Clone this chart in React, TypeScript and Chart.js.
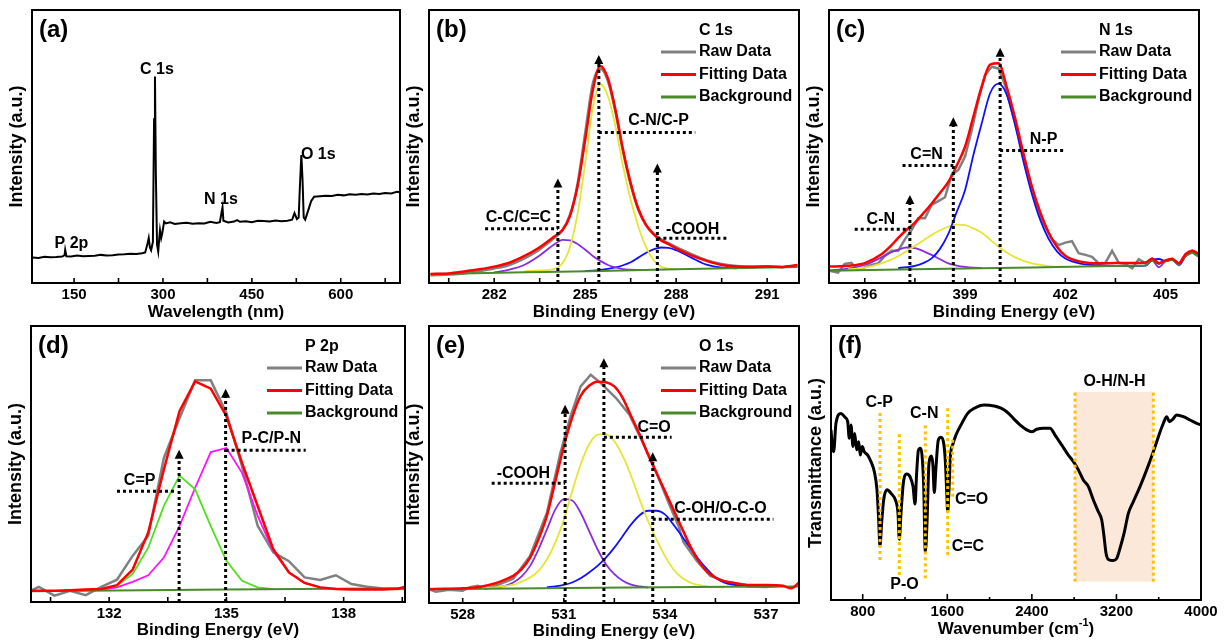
import React, { useEffect, useRef } from 'react';
import { Chart, registerables } from 'chart.js';

Chart.register(...registerables);

const FONT = '"Liberation Sans", Arial, Helvetica, sans-serif';
Chart.defaults.font.family = FONT;
Chart.defaults.color = '#000';

const C_RAW = '#808080';
const C_FIT = '#ff0000';
const C_BG = '#4a8a2a';
const C_YEL = '#e6e632';
const C_PUR = '#8a2be2';
const C_BLU = '#1010ff';
const C_LIME = '#4fe01e';
const C_MAG = '#ff10ff';
const C_GOLD = '#ffc000';

// ---------- (a) XPS survey ----------
const surveyTicks = [150, 300, 450, 600];
const surveyX = [80, 90, 100, 110, 120, 130, 134, 135, 137, 145, 155, 165, 175, 185, 195, 205, 215, 225, 235, 245, 255, 265, 270, 274, 276, 278, 280, 283, 285, 286.5, 288, 290, 292, 294, 295, 297, 299, 302, 305, 312, 320, 330, 340, 350, 360, 370, 380, 390, 396, 399, 400.5, 402, 410, 420, 425, 430, 440, 450, 460, 470, 480, 490, 500, 510, 518, 522, 526, 529, 531, 533.5, 535.5, 537.5, 540, 545, 550, 555, 565, 575, 585, 595, 605, 615, 625, 635, 645, 655, 665, 675, 685, 695, 700];
const surveyY = [9.3, 9.2, 9.6, 9.4, 9.5, 9.7, 10.2, 12.1, 9.8, 9.7, 10.1, 9.8, 9.9, 10.0, 10.3, 10.1, 10.2, 10.4, 10.5, 10.7, 10.6, 10.9, 11.2, 14.5, 16.5, 13.0, 12.0, 15.0, 60.0, 75.6, 40.0, 14.0, 11.5, 17.0, 19.4, 16.5, 18.5, 22.5, 21.8, 22.2, 21.6, 21.9, 22.1, 21.7, 21.9, 21.8, 22.4, 22.0, 22.3, 26.0, 27.7, 22.8, 22.2, 22.5, 23.0, 22.4, 22.6, 22.3, 22.8, 22.7, 22.5, 22.9, 22.6, 22.8, 23.2, 25.6, 23.4, 24.0, 35.0, 46.9, 38.0, 24.0, 23.2, 26.5, 30.0, 31.6, 31.8, 32.0, 31.9, 32.3, 32.1, 32.5, 32.3, 32.6, 32.4, 32.8, 32.6, 33.0, 32.8, 33.4, 33.2];
const surveyNames = ['P 2p', 'C 1s', 'N 1s', 'O 1s'];
const surveyNameX = [145.5, 289.9, 397.8, 562];
const surveyNameY = [14.5, 78.3, 30.7, 47.1];

// ---------- (b) C 1s ----------
const c1sTicks = [282, 285, 288, 291];
const c1sX = [279.9, 280.5, 281, 281.5, 282, 282.5, 283, 283.5, 284, 284.25, 284.5, 284.75, 285, 285.25, 285.5, 285.75, 286, 286.25, 286.5, 286.75, 287, 287.25, 287.5, 287.75, 288, 288.5, 289, 289.5, 290, 290.5, 291, 291.5, 292];
const c1sRaw = [2.8, 3.1, 3.5, 4.3, 5.3, 6.6, 9.0, 12.3, 16.7, 19.2, 25.0, 36.5, 55.0, 73.0, 78.5, 74.0, 62.5, 48.0, 36.0, 27.0, 21.3, 18.2, 16.0, 14.6, 13.1, 10.6, 8.4, 7.0, 6.2, 6.0, 6.1, 5.8, 6.3];
const c1sFit = [3.3, 3.5, 4.2, 5.0, 6.0, 7.4, 9.9, 13.1, 17.2, 19.4, 24.6, 35.5, 52.4, 70.6, 79.5, 74.9, 63.4, 48.7, 36.6, 27.2, 21.4, 17.9, 15.6, 14.2, 12.7, 10.1, 8.1, 6.6, 6.0, 5.9, 6.0, 5.9, 6.6];
const c1sCN = [null, null, null, null, null, null, 4.3, 4.6, 5.2, 7.2, 13.3, 25.5, 43.7, 64.0, 72.9, 68.4, 57.3, 42.7, 30.5, 20.8, 13.3, 8.4, 6.0, 5.3, 5.1, null, null, null, null, null, null, null, null];
const c1sCC = [null, null, null, null, 3.9, 4.9, 6.7, 10.1, 14.3, 15.8, 15.6, 14.3, 12.2, 9.9, 8.1, 6.6, 5.7, 5.1, 4.9, 4.8, 4.8, null, null, null, null, null, null, null, null, null, null, null, null];
const c1sCOOH = [null, null, null, null, null, null, null, null, null, null, null, null, 4.4, 4.5, 4.8, 5.2, 5.7, 6.5, 7.6, 9.3, 11.0, 12.3, 13.0, 12.9, 12.0, 9.3, 6.7, 5.6, 5.4, null, null, null, null];
const c1sBgX = [279.9, 283, 285.5, 288, 292];
const c1sBg = [3.3, 3.9, 4.4, 5.0, 5.9];
const c1sNames = ['C-C/C=C', 'C-N/C-P', '-COOH'];
const c1sArrowX = [284.1, 285.45, 287.38];
const c1sArrowTop = [38.3, 83.5, 43.8];
const c1sLineFrom = [281.7, 285.45, 287.38];
const c1sLineTo = [284.1, 288.63, 289.67];
const c1sLineY = [19.9, 55.1, 16.4];
const c1sNameX = [282.8, 287.42, 288.54];
const c1sNameY = [24.1, 59.5, 19.7];

// ---------- (c) N 1s ----------
const n1sTicks = [396, 399, 402, 405];
const n1sRawX = [394.95, 395.2, 395.4, 395.6, 395.8, 396.0, 396.2, 396.4, 396.6, 396.8, 397.0, 397.2, 397.4, 397.6, 397.8, 398.0, 398.2, 398.4, 398.6, 398.8, 399.0, 399.2, 399.4, 399.6, 399.8, 400.0, 400.2, 400.4, 400.6, 400.8, 401.0, 401.2, 401.4, 401.6, 401.8, 402.0, 402.2, 402.4, 402.6, 402.8, 403.0, 403.2, 403.4, 403.6, 403.8, 404.0, 404.2, 404.4, 404.6, 404.8, 405.0, 405.2, 405.4, 405.6, 405.8, 406.0];
const n1sRaw = [4.5, 3.8, 7.0, 7.4, 4.8, 5.7, 6.6, 7.2, 9.9, 11.8, 11.8, 16.0, 19.4, 23.7, 23.7, 28.6, 30.0, 31.4, 39.6, 41.4, 46.3, 56.0, 67.0, 76.2, 79.2, 78.6, 72.5, 62.8, 53.6, 43.2, 34.1, 26.1, 20.6, 16.0, 13.9, 14.8, 15.3, 10.9, 10.3, 9.6, 7.2, 7.4, 11.8, 7.4, 7.0, 5.4, 8.7, 7.2, 9.0, 7.2, 8.2, 8.9, 6.8, 10.6, 11.8, 10.3];
const n1sX = [394.95, 395.5, 396.0, 396.5, 396.75, 397.0, 397.25, 397.5, 397.75, 398.0, 398.25, 398.5, 398.75, 399.0, 399.25, 399.5, 399.75, 400.0, 400.25, 400.5, 400.75, 401.0, 401.25, 401.5, 401.75, 402.0, 402.5, 403.0, 403.5, 404.0, 404.4, 404.6, 404.8, 405.0, 405.2, 405.4, 405.6, 405.8, 406.0];
const n1sFit = [6.0, 6.3, 7.3, 10.5, 13.2, 16.5, 19.5, 22.1, 25.5, 29.0, 33.0, 37.0, 43.0, 49.9, 61.0, 72.0, 80.0, 80.5, 71.7, 60.3, 47.3, 35.3, 25.9, 18.5, 13.3, 10.0, 7.7, 7.2, 7.3, 7.3, 7.5, 8.9, 7.2, 8.3, 8.8, 7.2, 10.6, 11.8, 10.6];
const n1sNP = [null, null, null, null, null, 5.5, 5.8, 6.3, 7.3, 9.0, 12.5, 18.0, 26.0, 34.0, 46.9, 58.5, 69.5, 73.0, 68.9, 57.9, 44.4, 32.6, 23.1, 16.2, 11.6, 9.0, 7.0, 6.5, 6.3, 6.3, 6.4, 8.4, 8.8, 8.0, 8.6, 6.6, 9.9, 11.1, 9.6];
const n1sCeqN = [null, 5.0, 5.6, 7.2, 8.4, 9.8, 11.6, 13.6, 15.6, 17.6, 19.3, 20.6, 21.4, 21.2, 20.0, 18.4, 15.9, 13.3, 11.2, 9.4, 8.1, 7.2, 6.6, 6.2, 6.0, 6.0, null, null, null, null, null, null, null, null, null, null, null, null, null];
const n1sCN = [4.6, 5.3, 6.6, 9.4, 11.0, 12.2, 13.0, 12.8, 11.7, 10.3, 8.7, 7.2, 6.4, 5.9, 5.6, 5.5, null, null, null, null, null, null, null, null, null, null, null, null, null, null, 6.4, 8.2, 5.8, 8.0, 8.6, 6.6, 9.9, 11.1, 9.6];
const n1sBgX = [394.95, 397, 399, 401, 403, 404.0, 404.4, 404.6, 404.8, 405.0, 405.2, 405.4, 405.6, 405.8, 406.0];
const n1sBg = [4.5, 4.9, 5.3, 5.7, 6.1, 6.3, 6.4, 8.4, 7.0, 8.0, 8.6, 6.6, 9.9, 11.1, 9.6];
const n1sNames = ['C-N', 'C=N', 'N-P'];
const n1sArrowX = [397.35, 398.65, 400.05];
const n1sArrowTop = [32.2, 60.7, 86.2];
const n1sLineFrom = [395.7, 397.13, 400.05];
const n1sLineTo = [397.35, 398.65, 402.0];
const n1sLineY = [19.7, 43.0, 48.5];
const n1sNameX = [396.48, 397.85, 401.35];
const n1sNameY = [23.4, 46.9, 52.4];

// ---------- (d) P 2p ----------
const p2pTicks = [132, 135, 138];
const p2pRawX = [130.0, 130.2, 130.6, 131.0, 131.4, 131.8, 132.2, 132.6, 133.0, 133.4, 133.8, 134.2, 134.6, 135.0, 135.4, 135.8, 136.2, 136.6, 137.0, 137.4, 137.8, 138.2, 138.6, 139.0, 139.57];
const p2pRaw = [4.1, 5.5, 2.3, 4.1, 2.5, 5.5, 8.1, 16.7, 24.0, 52.2, 66.6, 80.3, 80.3, 68.5, 49.2, 27.6, 18.0, 14.8, 8.9, 8.0, 9.7, 6.5, 5.5, 4.9, 4.7];
const p2pX = [130.0, 130.6, 131.0, 131.4, 131.8, 132.2, 132.6, 133.0, 133.4, 133.8, 134.2, 134.6, 135.0, 135.4, 135.8, 136.2, 136.6, 137.0, 137.4, 137.8, 138.2, 138.6, 139.0, 139.4, 139.57];
const p2pFit = [4.1, 4.1, 4.3, 4.5, 4.7, 6.1, 11.7, 25.2, 48.0, 69.1, 79.9, 77.3, 67.3, 50.4, 34.8, 19.1, 10.7, 6.9, 5.3, 4.7, 4.5, 4.5, 4.5, 4.8, 5.5];
const p2pCP = [null, null, null, 4.5, 4.7, 5.9, 10.1, 19.7, 34.8, 45.8, 40.8, 27.5, 14.9, 7.7, 5.3, 4.7, null, null, null, null, null, null, null, null, null];
const p2pPC = [null, null, null, 4.4, 4.4, 5.3, 7.3, 9.7, 16.1, 27.5, 41.4, 54.3, 55.8, 46.8, 31.2, 18.5, 10.7, 6.9, 5.3, 4.7, null, null, null, null, null];
const p2pBgX = [130.0, 135.0, 139.57];
const p2pBg = [3.9, 4.5, 5.0];
const p2pNames = ['C=P', 'P-C/P-N'];
const p2pArrowX = [133.79, 134.98];
const p2pArrowTop = [55.2, 77.3];
const p2pLineFrom = [132.2, 134.98];
const p2pLineTo = [133.7, 137.03];
const p2pLineY = [40.1, 55.0];
const p2pNameX = [132.78, 136.15];
const p2pNameY = [44.0, 59.2];

// ---------- (e) O 1s ----------
const o1sTicks = [528, 531, 534, 537];
const o1sRawX = [527.0, 527.2, 527.6, 528.0, 528.2, 528.45, 528.7, 529.1, 529.5, 530.0, 530.5, 530.9, 531.2, 531.5, 531.8, 532.1, 532.55, 532.95, 533.35, 533.75, 534.15, 534.4, 534.55, 534.95, 535.35, 535.75, 536.1, 536.5, 537.0, 537.4];
const o1sRaw = [5.0, 4.1, 4.8, 4.4, 5.6, 6.2, 5.2, 6.8, 8.8, 17.0, 32.6, 54.2, 67.4, 78.2, 82.4, 79.4, 74.0, 68.0, 57.8, 47.0, 35.0, 28.0, 22.0, 15.2, 9.8, 8.0, 6.8, 6.0, 5.8, 6.2];
const o1sX = [527.0, 527.5, 528.0, 528.5, 529.0, 529.25, 529.5, 529.75, 530.0, 530.25, 530.5, 530.75, 531.0, 531.25, 531.5, 531.75, 532.0, 532.25, 532.5, 532.75, 533.0, 533.25, 533.5, 533.75, 534.0, 534.25, 534.5, 534.75, 535.0, 535.25, 535.5, 535.75, 536.0, 536.5, 537.0, 537.5, 537.75, 537.98];
const o1sFit = [5.0, 5.1, 5.3, 5.8, 7.2, 8.4, 9.8, 12.2, 16.4, 23.0, 31.5, 44.0, 56.5, 67.0, 74.8, 78.4, 79.9, 79.7, 78.2, 74.0, 67.4, 60.8, 53.6, 47.0, 40.4, 33.8, 27.2, 20.6, 15.2, 11.3, 9.2, 7.9, 7.4, 6.5, 6.5, 6.2, 5.3, 7.4];
const o1sCO = [null, null, null, 5.5, 5.7, 6.2, 6.5, 7.7, 9.2, 11.6, 15.8, 21.8, 30.0, 40.4, 50.0, 57.2, 60.8, 61.0, 58.4, 53.0, 45.8, 37.4, 29.6, 23.0, 17.0, 12.2, 9.2, 7.4, 6.5, 6.0, 5.7, 5.6, null, null, null, null, null, null];
const o1sCOOH = [null, null, null, 5.5, 5.7, 6.2, 7.4, 9.6, 13.4, 19.4, 26.6, 33.8, 37.5, 37.0, 32.6, 26.0, 19.4, 14.0, 10.4, 8.0, 6.6, 6.0, 5.6, null, null, null, null, null, null, null, null, null, null, null, null, null, null, null];
const o1sCOH = [null, null, null, null, null, null, null, null, null, null, 5.7, 6.0, 6.5, 7.4, 8.9, 11.0, 13.4, 16.4, 20.0, 24.2, 28.4, 31.7, 33.3, 33.3, 32.0, 28.4, 24.2, 20.0, 15.8, 12.2, 9.2, 7.4, 6.6, 6.0, null, null, null, null];
const o1sBgX = [527.0, 532.0, 537.98];
const o1sBg = [5.0, 5.5, 6.0];
const o1sNames = ['-COOH', 'C=O', 'C-OH/O-C-O'];
const o1sArrowX = [531.04, 532.19, 533.64];
const o1sArrowTop = [71.6, 88.4, 54.4];
const o1sLineFrom = [528.86, 532.19, 533.64];
const o1sLineTo = [531.04, 534.2, 537.22];
const o1sLineY = [43.2, 59.8, 30.2];
const o1sNameX = [529.8, 533.68, 535.65];
const o1sNameY = [46.6, 63.2, 34.1];

// ---------- (f) FTIR ----------
const ftirTicks = [800, 1600, 2400, 3200, 4000];
const ftirX = [500, 513, 525, 547, 595, 632, 658, 673, 689, 708, 724, 743, 762, 777, 796, 815, 847, 878, 910, 935, 951, 963, 979, 998, 1030, 1068, 1115, 1134, 1146, 1162, 1184, 1216, 1250, 1276, 1295, 1310, 1326, 1345, 1361, 1377, 1392, 1408, 1427, 1452, 1465, 1477, 1493, 1515, 1540, 1566, 1581, 1594, 1604, 1616, 1629, 1651, 1682, 1730, 1793, 1856, 1950, 2045, 2108, 2162, 2225, 2288, 2351, 2399, 2446, 2509, 2572, 2619, 2682, 2745, 2793, 2840, 2887, 2935, 2982, 3029, 3061, 3083, 3102, 3124, 3171, 3203, 3234, 3272, 3313, 3360, 3423, 3486, 3549, 3597, 3644, 3676, 3701, 3732, 3770, 3833, 3896, 3959, 4000];
const ftirY = [62.1, 56.0, 54.1, 64.5, 68.1, 66.7, 65.1, 59.0, 63.9, 56.0, 60.8, 54.8, 57.8, 52.9, 56.0, 54.1, 52.9, 50.5, 46.8, 40.2, 29.2, 19.7, 28.0, 36.5, 40.2, 38.9, 35.9, 31.6, 22.2, 31.6, 42.6, 46.0, 44.8, 41.4, 35.0, 46.2, 54.5, 55.4, 52.9, 41.4, 17.6, 28.0, 49.9, 52.6, 48.7, 39.2, 48.4, 58.4, 59.4, 57.2, 51.1, 40.2, 32.2, 40.2, 52.3, 56.6, 60.2, 63.9, 68.1, 70.0, 71.2, 70.8, 70.0, 68.7, 66.3, 63.9, 62.1, 61.4, 62.3, 62.7, 62.7, 60.2, 56.6, 52.9, 50.5, 47.5, 43.8, 41.4, 36.5, 32.2, 29.2, 23.1, 17.0, 14.8, 14.4, 15.2, 18.9, 24.3, 31.6, 35.9, 41.4, 47.5, 54.1, 59.6, 64.5, 66.9, 65.1, 65.9, 67.5, 66.9, 65.7, 64.5, 63.9];
const ftirBandNames = ['C-P', 'P-O', 'C-N', 'C=C', 'C=O'];
const ftirBandX = [963.5, 1146, 1392, 1603.6, 1651];
const ftirBandLow = [14.6, 9.1, 7.9, 16.4, 37.7];
const ftirBandHigh = [68.7, 60.6, 64.5, 70.0, 59.6];
const ftirNameX = [956, 1195, 1382, 1795, 1830];
const ftirNameY = [72.0, 5.8, 67.9, 19.5, 36.7];
const ftirOHRange = [2808, 3549];
const ftirOHLevels = [6.7, 76.0];
const ftirOHName = 'O-H/N-H';
const ftirOHNameAt = [3182, 79.7];

// ---------- helpers ----------
const pts = (xs: number[], ys: (number | null)[]) => xs.map((x, i) => ({ x, y: ys[i] }));
const ds = (label: string, xs: number[], ys: (number | null)[], color: string, width: number, smooth: boolean) => ({
  label,
  data: pts(xs, ys),
  borderColor: color,
  backgroundColor: color,
  borderWidth: width,
  pointRadius: 0,
  pointHoverRadius: 0,
  fill: false,
  tension: smooth ? 0.4 : 0,
  cubicInterpolationMode: smooth ? 'monotone' : 'default',
  spanGaps: false,
});
const marks = (names: string[], ax: number[], atop: number[], l1: number[], l2: number[], ly: number[], tx: number[], ty: number[]) => ({
  arrows: ax.map((x, i) => ({ x, y: atop[i] })),
  hlines: l1.map((x1, i) => ({ x1, x2: l2[i], y: ly[i] })),
  texts: names.map((t, i) => ({ t, x: tx[i], y: ty[i] })),
});
const legendItems = [
  { label: 'Raw Data', color: C_RAW },
  { label: 'Fitting Data', color: C_FIT },
  { label: 'Background', color: C_BG },
];

const decor = {
  id: 'decor',
  beforeDatasetsDraw(chart: any) {
    const o = chart.options.plugins.decor;
    if (!o || !o.band) return;
    const { ctx, scales } = chart;
    const X = (v: number) => scales.x.getPixelForValue(v);
    const Y = (v: number) => scales.y.getPixelForValue(v);
    const b = o.band;
    ctx.save();
    ctx.fillStyle = '#fce8d8';
    ctx.fillRect(X(b.x1), Y(b.y2), X(b.x2) - X(b.x1), Y(b.y1) - Y(b.y2));
    ctx.restore();
  },
  afterDatasetsDraw(chart: any) {
    const o = chart.options.plugins.decor;
    if (!o) return;
    const { ctx, chartArea: a, scales } = chart;
    const xs = scales.x;
    const ys = scales.y;
    const X = (v: number) => xs.getPixelForValue(v);
    const Y = (v: number) => ys.getPixelForValue(v);
    const seg = (x1: number, y1: number, x2: number, y2: number) => {
      ctx.beginPath();
      ctx.moveTo(x1, y1);
      ctx.lineTo(x2, y2);
      ctx.stroke();
    };
    ctx.save();
    ctx.lineCap = 'butt';
    ctx.strokeStyle = C_GOLD;
    ctx.lineWidth = 3;
    ctx.setLineDash([3, 3]);
    (o.vlines || []).forEach((v: any) => seg(X(v.x), Y(v.y1), X(v.x), Y(v.y2)));
    if (o.band) {
      const b = o.band;
      seg(X(b.x1), Y(b.y1), X(b.x1), Y(b.y2));
      seg(X(b.x2), Y(b.y1), X(b.x2), Y(b.y2));
    }
    ctx.strokeStyle = '#000';
    ctx.fillStyle = '#000';
    (o.arrows || []).forEach((ar: any) => {
      const x = X(ar.x);
      const yt = Y(ar.y);
      ctx.setLineDash([3, 3]);
      seg(x, a.bottom, x, yt + 7);
      ctx.setLineDash([]);
      ctx.beginPath();
      ctx.moveTo(x, yt);
      ctx.lineTo(x - 4.5, yt + 9);
      ctx.lineTo(x + 4.5, yt + 9);
      ctx.closePath();
      ctx.fill();
    });
    ctx.setLineDash([3, 3]);
    (o.hlines || []).forEach((h: any) => seg(X(h.x1), Y(h.y), X(h.x2), Y(h.y)));
    ctx.setLineDash([]);
    ctx.font = `bold 16px ${FONT}`;
    ctx.textAlign = 'center';
    ctx.textBaseline = 'middle';
    (o.texts || []).forEach((t: any) => ctx.fillText(t.t, X(t.x), Y(t.y)));
    if (o.legend) {
      ctx.textAlign = 'left';
      ctx.fillText(o.legend.title, a.right - 100, a.top + 21);
      o.legend.items.forEach((it: any, i: number) => {
        const y = a.top + 42 + i * 22.5;
        ctx.strokeStyle = it.color;
        ctx.lineWidth = 3;
        seg(a.right - 138, y, a.right - 103, y);
        ctx.fillText(it.label, a.right - 100, y);
      });
    }
    ctx.font = `bold 24px ${FONT}`;
    ctx.textAlign = 'left';
    ctx.fillText(o.letter, a.left + 7, a.top + 20);
    ctx.strokeStyle = '#000';
    ctx.lineWidth = 2;
    ctx.strokeRect(a.left, a.top, a.right - a.left, a.bottom - a.top);
    ctx.lineWidth = 1.6;
    const k0 = Math.ceil(xs.min / o.minor - 1e-6);
    const k1 = Math.floor(xs.max / o.minor + 1e-6);
    for (let k = k0; k <= k1; k++) {
      const v = k * o.minor;
      const r = v / o.major;
      const maj = Math.abs(r - Math.round(r)) < 1e-6;
      const px = X(v);
      seg(px, a.bottom, px, a.bottom - (maj ? o.majLen : o.minLen));
    }
    if (o.xTitleParts) {
      const [base, sup, tail] = o.xTitleParts;
      const yb = a.bottom + o.H - 10;
      ctx.font = `bold 17px ${FONT}`;
      const w1 = ctx.measureText(base).width;
      const w3 = ctx.measureText(tail).width;
      ctx.font = `bold 11px ${FONT}`;
      const w2 = ctx.measureText(sup).width;
      let x = (a.left + a.right) / 2 - (w1 + w2 + w3) / 2;
      ctx.textAlign = 'left';
      ctx.fillStyle = '#000';
      ctx.font = `bold 17px ${FONT}`;
      ctx.fillText(base, x, yb);
      x += w1;
      ctx.font = `bold 11px ${FONT}`;
      ctx.fillText(sup, x, yb - 6);
      x += w2;
      ctx.font = `bold 17px ${FONT}`;
      ctx.fillText(tail, x, yb);
    }
    ctx.restore();
  },
};

const panels: any[] = [
  {
    key: 'a', L: 32, T: 10, R: 400, B: 283, H: 40, xMin: 79, xMax: 700, ticks: surveyTicks, major: 150, minor: 75,
    xTitle: 'Wavelength (nm)', yTitle: 'Intensity (a.u.)',
    datasets: [ds('Survey', surveyX, surveyY, '#000', 2, false)],
    ann: { letter: '(a)', texts: surveyNames.map((t, i) => ({ t, x: surveyNameX[i], y: surveyNameY[i] })) },
  },
  {
    key: 'b', L: 429, T: 10, R: 799, B: 283, H: 40, xMin: 279.85, xMax: 292.05, ticks: c1sTicks, major: 3, minor: 1.5,
    xTitle: 'Binding Energy (eV)', yTitle: 'Intensity (a.u.)',
    datasets: [
      ds('Fitting Data', c1sX, c1sFit, C_FIT, 2.5, true),
      ds('Background', c1sBgX, c1sBg, C_BG, 2, true),
      ds('C-N/C-P', c1sX, c1sCN, C_YEL, 1.8, true),
      ds('C-C/C=C', c1sX, c1sCC, C_PUR, 1.8, true),
      ds('-COOH', c1sX, c1sCOOH, C_BLU, 1.8, true),
      ds('Raw Data', c1sX, c1sRaw, C_RAW, 2.5, true),
    ],
    ann: { letter: '(b)', legend: { title: 'C 1s', items: legendItems }, ...marks(c1sNames, c1sArrowX, c1sArrowTop, c1sLineFrom, c1sLineTo, c1sLineY, c1sNameX, c1sNameY) },
  },
  {
    key: 'c', L: 829, T: 10, R: 1199, B: 283, H: 40, xMin: 394.93, xMax: 406.0, ticks: n1sTicks, major: 3, minor: 1.5,
    xTitle: 'Binding Energy (eV)', yTitle: 'Intensity (a.u.)',
    datasets: [
      ds('Fitting Data', n1sX, n1sFit, C_FIT, 2.5, true),
      ds('Background', n1sBgX, n1sBg, C_BG, 2, false),
      ds('N-P', n1sX, n1sNP, C_BLU, 1.8, true),
      ds('C=N', n1sX, n1sCeqN, C_YEL, 1.8, true),
      ds('C-N', n1sX, n1sCN, C_PUR, 1.8, true),
      ds('Raw Data', n1sRawX, n1sRaw, C_RAW, 2.5, false),
    ],
    ann: { letter: '(c)', legend: { title: 'N 1s', items: legendItems }, ...marks(n1sNames, n1sArrowX, n1sArrowTop, n1sLineFrom, n1sLineTo, n1sLineY, n1sNameX, n1sNameY) },
  },
  {
    key: 'd', L: 31, T: 326, R: 405, B: 602, H: 39, xMin: 130.0, xMax: 139.57, ticks: p2pTicks, major: 3, minor: 1.5,
    xTitle: 'Binding Energy (eV)', yTitle: 'Intensity (a.u.)',
    datasets: [
      ds('Fitting Data', p2pX, p2pFit, C_FIT, 2.5, false),
      ds('Background', p2pBgX, p2pBg, C_BG, 2, false),
      ds('C=P', p2pX, p2pCP, C_LIME, 1.8, false),
      ds('P-C/P-N', p2pX, p2pPC, C_MAG, 1.8, false),
      ds('Raw Data', p2pRawX, p2pRaw, C_RAW, 2.5, false),
    ],
    ann: { letter: '(d)', legend: { title: 'P 2p', items: legendItems }, ...marks(p2pNames, p2pArrowX, p2pArrowTop, p2pLineFrom, p2pLineTo, p2pLineY, p2pNameX, p2pNameY) },
  },
  {
    key: 'e', L: 429, T: 326, R: 799, B: 603, H: 39, xMin: 527.0, xMax: 537.98, ticks: o1sTicks, major: 3, minor: 1.5,
    xTitle: 'Binding Energy (eV)', yTitle: 'Intensity (a.u.)',
    datasets: [
      ds('Fitting Data', o1sX, o1sFit, C_FIT, 2.5, true),
      ds('Background', o1sBgX, o1sBg, C_BG, 2, true),
      ds('C=O', o1sX, o1sCO, C_YEL, 1.8, true),
      ds('-COOH', o1sX, o1sCOOH, C_PUR, 1.8, true),
      ds('C-OH/O-C-O', o1sX, o1sCOH, C_BLU, 1.8, true),
      ds('Raw Data', o1sRawX, o1sRaw, C_RAW, 2.5, false),
    ],
    ann: { letter: '(e)', legend: { title: 'O 1s', items: legendItems }, ...marks(o1sNames, o1sArrowX, o1sArrowTop, o1sLineFrom, o1sLineTo, o1sLineY, o1sNameX, o1sNameY) },
  },
  {
    key: 'f', L: 831, T: 326, R: 1201, B: 600, H: 39, xMin: 500, xMax: 4000, ticks: ftirTicks, major: 800, minor: 400,
    xTitle: '', yTitle: 'Transmittance (a.u.)',
    datasets: [ds('FTIR', ftirX, ftirY, '#000', 3, true)],
    ann: {
      letter: '(f)',
      vlines: ftirBandX.map((x, i) => ({ x, y1: ftirBandLow[i], y2: ftirBandHigh[i] })),
      band: { x1: ftirOHRange[0], x2: ftirOHRange[1], y1: ftirOHLevels[0], y2: ftirOHLevels[1] },
      texts: [
        ...ftirBandNames.map((t, i) => ({ t, x: ftirNameX[i], y: ftirNameY[i] })),
        { t: ftirOHName, x: ftirOHNameAt[0], y: ftirOHNameAt[1] },
      ],
      xTitleParts: ['Wavenumber (cm', '-1', ')'],
      majLen: 6, minLen: 3,
    },
  },
];

function makeConfig(p: any) {
  const ann = { majLen: 5, minLen: 5, ...p.ann, major: p.major, minor: p.minor, H: p.H };
  return {
    type: 'line',
    data: { datasets: p.datasets },
    options: {
      animation: false,
      responsive: false,
      devicePixelRatio: 1,
      events: [],
      layout: { padding: { top: 5, right: 25, bottom: 0, left: 0 } },
      plugins: { legend: { display: false }, tooltip: { enabled: false }, decor: ann },
      scales: {
        x: {
          type: 'linear',
          min: p.xMin,
          max: p.xMax,
          afterBuildTicks: (s: any) => { s.ticks = p.ticks.map((v: number) => ({ value: v })); },
          afterFit: (s: any) => { s.height = p.H; },
          grid: { display: false, drawTicks: false },
          border: { display: false },
          ticks: {
            autoSkip: false,
            maxRotation: 0,
            padding: 3,
            color: '#000',
            font: { size: 15, weight: 'bold' },
            callback: (v: any) => String(v),
          },
          title: {
            display: !!p.xTitle,
            text: p.xTitle,
            color: '#000',
            font: { size: 17, weight: 'bold' },
            padding: { top: 0, bottom: 0 },
          },
        },
        y: {
          type: 'linear',
          min: 0,
          max: 100,
          afterFit: (s: any) => { s.width = 30; },
          grid: { display: false, drawTicks: false },
          border: { display: false },
          ticks: { display: false },
          title: {
            display: true,
            text: p.yTitle,
            color: '#000',
            font: { size: 18, weight: 'bold' },
            padding: { top: 4, bottom: 0 },
          },
        },
      },
    },
    plugins: [decor],
  };
}

function Panel({ p }: { p: any }) {
  const ref = useRef<HTMLCanvasElement | null>(null);
  useEffect(() => {
    if (!ref.current) return;
    const chart = new Chart(ref.current, makeConfig(p) as any);
    return () => chart.destroy();
  }, [p]);
  const w = p.R - p.L + 55;
  const h = p.B - p.T + 5 + p.H;
  return (
    <canvas
      ref={ref}
      width={w}
      height={h}
      style={{ position: 'absolute', left: p.L - 30, top: p.T - 5, width: w, height: h }}
    />
  );
}

export default function App() {
  return (
    <div style={{ position: 'fixed', left: 0, top: 0, width: 1229, height: 640, background: '#fff', overflow: 'hidden' }}>
      {panels.map((p) => (
        <Panel key={p.key} p={p} />
      ))}
    </div>
  );
}
